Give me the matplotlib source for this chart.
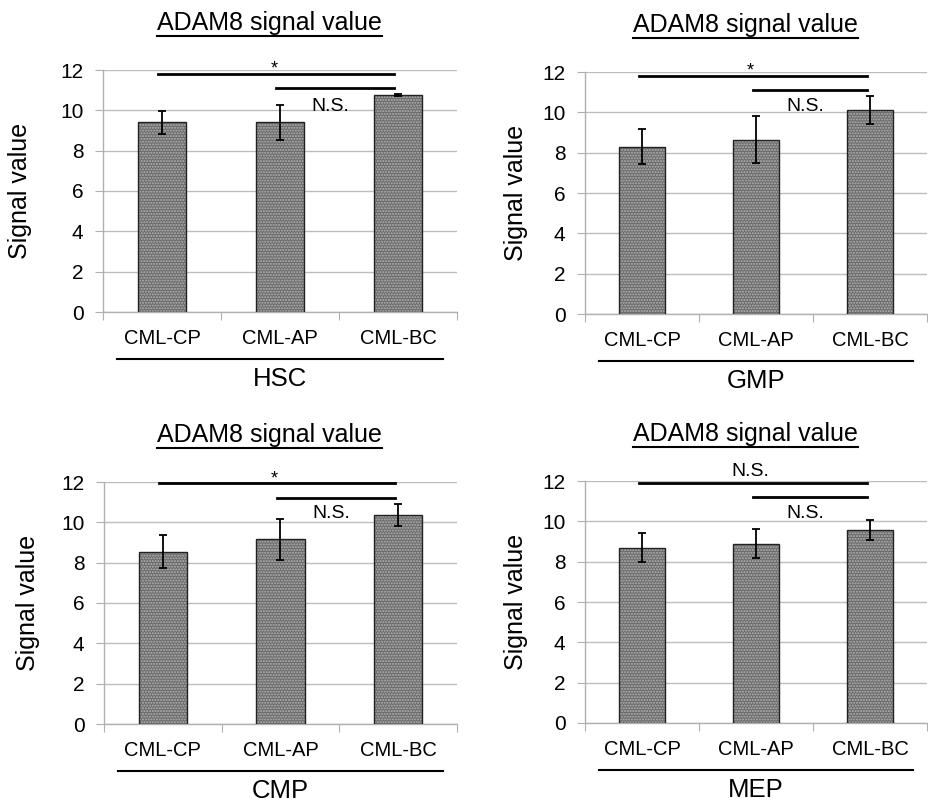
import numpy as np
import matplotlib.pyplot as plt
from matplotlib.lines import Line2D

plt.rcParams['font.family'] = ['Liberation Sans', 'DejaVu Sans']

categories = ["CML-CP", "CML-AP", "CML-BC"]
groups = ["HSC", "GMP", "CMP", "MEP"]

# mean signal values and error (SD) per group
means = {
    "HSC": [9.4, 9.4, 10.75],
    "GMP": [8.3, 8.65, 10.1],
    "CMP": [8.55, 9.15, 10.35],
    "MEP": [8.7, 8.9, 9.55],
}
errors = {
    "HSC": [0.55, 0.85, 0.05],
    "GMP": [0.85, 1.15, 0.7],
    "CMP": [0.8, 1.0, 0.55],
    "MEP": [0.7, 0.7, 0.5],
}
# significance brackets: (from, to, height, label, label height)
brackets = {
    "HSC": [(0, 2, 11.8, "*", 11.85), (1, 2, 11.1, "N.S.", 9.75)],
    "GMP": [(0, 2, 11.8, "*", 11.85), (1, 2, 11.1, "N.S.", 9.85)],
    "CMP": [(0, 2, 11.95, "*", 11.95), (1, 2, 11.2, "N.S.", 10.0)],
    "MEP": [(0, 2, 11.9, "N.S.", 12.05), (1, 2, 11.2, "N.S.", 9.95)],
}

W, H = 929, 810
fig = plt.figure(figsize=(W / 100, H / 100), dpi=100)

# axes boxes in pixels: left, right, top, bottom, ylabel pad
boxes = {
    "HSC": (103, 457, 70, 312, 20),
    "GMP": (585, 927, 72, 314, 10),
    "CMP": (104, 457, 482, 724, 15),
    "MEP": (585, 927, 481, 723, 10),
}

titles = []
for g in groups:
    l, r, t, b, pad = boxes[g]
    ax = fig.add_axes([l / W, 1 - b / H, (r - l) / W, (b - t) / H])
    x = np.arange(len(categories))
    ax.bar(x, means[g], width=0.41, color='#6a6a6a', edgecolor='#b4b4b4',
           hatch='......', linewidth=0, zorder=2)
    ax.bar(x, means[g], width=0.41, color='none', edgecolor='#222222',
           linewidth=1.0, zorder=3)
    ax.errorbar(x, means[g], yerr=errors[g], fmt='none', ecolor='black',
                elinewidth=1.3, capsize=3, capthick=1.3, zorder=4)

    ax.set_xlim(-0.5, 2.5)
    ax.set_ylim(0, 12)
    ax.set_yticks(np.arange(0, 13, 2))
    ax.yaxis.grid(True, color='#bdbdbd', linewidth=1)
    ax.set_axisbelow(True)
    for s in ['top', 'right']:
        ax.spines[s].set_visible(False)
    for s in ['left', 'bottom']:
        ax.spines[s].set_color('#b0b0b0')
        ax.spines[s].set_linewidth(1)
    ax.set_xticks([-0.5, 0.5, 1.5, 2.5])
    ax.set_xticklabels([])
    ax.tick_params(axis='x', which='major', length=6, color='#b0b0b0')
    ax.set_xticks(x, minor=True)
    ax.set_xticklabels(categories, minor=True, fontsize=14.5)
    ax.tick_params(axis='x', which='minor', length=0, pad=12)
    ax.tick_params(axis='y', length=6, color='#b0b0b0', labelsize=15, pad=8)
    ax.set_ylabel("Signal value", fontsize=18, labelpad=pad)

    for (a, c, yy, lab, ly) in brackets[g]:
        ax.plot([a - 0.03, c - 0.03], [yy, yy], color='black', linewidth=2,
                clip_on=False, zorder=5)
        xm = (a + c) / 2
        if lab == "*":
            ax.text(xm - 0.05, ly, lab, ha='center', va='baseline', fontsize=13)
        elif a == 0:
            ax.text(xm - 0.05, ly, lab, ha='center', va='bottom', fontsize=14)
        else:
            ax.text(xm - 0.07, ly, lab, ha='center', va='bottom', fontsize=14)

    # group line and label under the categories
    ax.plot([0.04, 0.96], [-0.195, -0.195], transform=ax.transAxes,
            color='black', linewidth=1.5, clip_on=False)
    ax.text(0.5, -0.275, g, transform=ax.transAxes, ha='center', va='center',
            fontsize=18.5)

    tt = ax.text(0.47, 1 + 40 / (b - t), "ADAM8 signal value", transform=ax.transAxes,
                 ha='center', va='baseline', fontsize=18)
    titles.append(tt)

# underline the titles
fig.canvas.draw()
renderer = fig.canvas.get_renderer()
for tt in titles:
    bb = tt.get_window_extent(renderer)
    yline = bb.y0 - 1
    fig.add_artist(Line2D([bb.x0 / W, bb.x1 / W], [yline / H, yline / H],
                          color='black', linewidth=1.5))

fig.savefig("out.png", dpi=100)
